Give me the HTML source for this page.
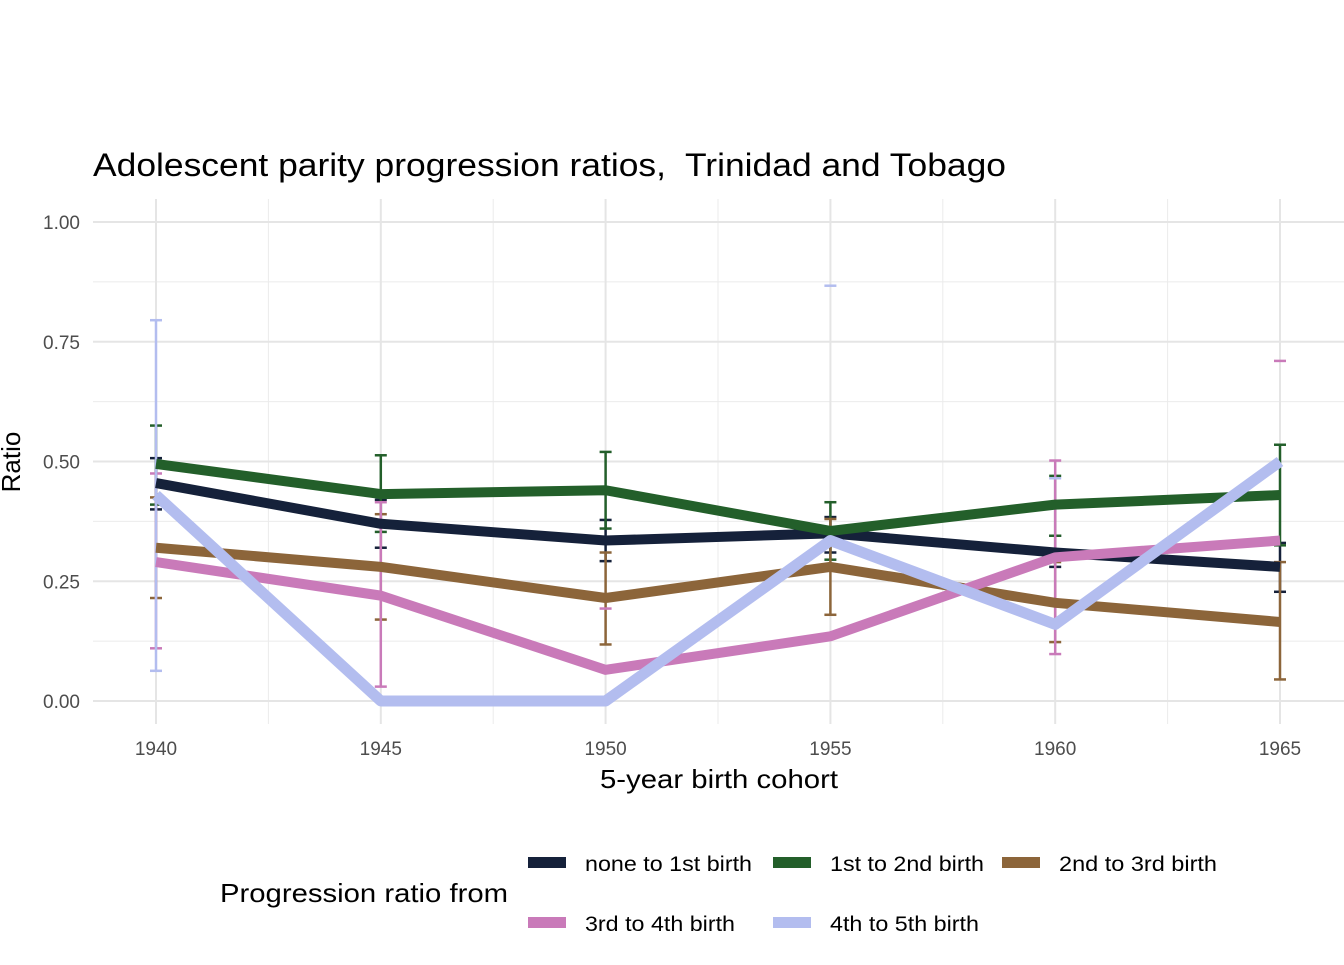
<!DOCTYPE html>
<html><head><meta charset="utf-8"><style>
body{margin:0;background:#fff;}
svg text{font-family:"Liberation Sans",Arial,sans-serif;white-space:pre;}
</style></head><body>
<svg id="chart" width="1344" height="960" xmlns="http://www.w3.org/2000/svg">
<rect width="1344" height="960" fill="#fff"/>
<text x="93" y="176" font-size="32" fill="#000" textLength="913" lengthAdjust="spacingAndGlyphs" xml:space="preserve">Adolescent parity progression ratios,  Trinidad and Tobago</text>
<g id="grid"></g>
<g id="bars"></g>
<g id="lines"></g>
<g id="axes"></g>
<text x="600" y="788" font-size="26" textLength="238" lengthAdjust="spacingAndGlyphs">5-year birth cohort</text>
<text transform="translate(20,462) rotate(-90)" font-size="26" text-anchor="middle">Ratio</text>
<text x="220" y="902" font-size="26" textLength="288" lengthAdjust="spacingAndGlyphs">Progression ratio from</text>
<g id="legend"></g>
</svg>
<script>
const years=[1940,1945,1950,1955,1960,1965];
const yTicks=[0,0.25,0.5,0.75,1.0];
const yTickLabels=["0.00","0.25","0.50","0.75","1.00"];
const seriesNames=["none to 1st birth","1st to 2nd birth","2nd to 3rd birth","3rd to 4th birth","4th to 5th birth"];
const seriesColors=["#15213a","#235f2a","#8c653a","#c97ab9","#b3bdef"];
const vNone=[0.455,0.37,0.335,0.35,0.31,0.28];
const loNone=[0.40,0.32,0.292,0.31,0.28,0.228];
const hiNone=[0.507,0.42,0.378,0.384,0.345,0.33];
const vFirst=[0.495,0.432,0.44,0.355,0.41,0.43];
const loFirst=[0.41,0.353,0.36,0.295,0.345,0.325];
const hiFirst=[0.575,0.513,0.52,0.415,0.47,0.535];
const vSecond=[0.32,0.28,0.215,0.28,0.205,0.165];
const loSecond=[0.215,0.17,0.118,0.18,0.123,0.045];
const hiSecond=[0.425,0.39,0.31,0.38,0.29,0.29];
const vThird=[0.29,0.22,0.065,0.135,0.30,0.335];
const loThird=[0.11,0.03,null,null,0.098,null];
const hiThird=[0.475,0.415,0.193,0.28,0.502,0.71];
const vFourth=[0.43,0,0,0.335,0.16,0.5];
const loFourth=[0.063,null,null,null,null,null];
const hiFourth=[0.795,null,null,0.867,0.465,null];
const vals=[vNone,vFirst,vSecond,vThird,vFourth];
const los=[loNone,loFirst,loSecond,loThird,loFourth];
const his=[hiNone,hiFirst,hiSecond,hiThird,hiFourth];
const X=y=>156+(y-1940)*(1124/25);
const Y=v=>701-v*479;
const NS="http://www.w3.org/2000/svg";
function mk(tag,attrs,parent){const e=document.createElementNS(NS,tag);for(const k in attrs)e.setAttribute(k,attrs[k]);parent.appendChild(e);return e;}
const grid=document.getElementById('grid'),axes=document.getElementById('axes');
for(let v=0.125;v<1;v+=0.25){const l=mk('line',{x1:93,x2:1344,y1:Y(v),y2:Y(v),stroke:'#ebebeb','stroke-width':1},grid);

}
for(let y=1942.5;y<1965;y+=5){const l=mk('line',{x1:X(y),x2:X(y),y1:199,y2:724,stroke:'#ebebeb','stroke-width':1},grid);

}
yTicks.forEach((v,i)=>{const l=mk('line',{x1:93,x2:1344,y1:Y(v),y2:Y(v),stroke:'#e5e5e5','stroke-width':2},grid);


const t=mk('text',{x:80,y:Y(v)+7,'font-size':19,'text-anchor':'end',fill:'#4d4d4d'},axes);t.textContent=yTickLabels[i];

});
years.forEach(y=>{const l=mk('line',{x1:X(y),x2:X(y),y1:199,y2:724,stroke:'#e5e5e5','stroke-width':2},grid);


const t=mk('text',{x:X(y),y:755,'font-size':19,'text-anchor':'middle',fill:'#4d4d4d'},axes);t.textContent=y;

});
const bars=document.getElementById('bars'),lines=document.getElementById('lines');
vals.forEach((vs,s)=>{const c=seriesColors[s];
years.forEach((y,i)=>{const lo=los[s][i],hi=his[s][i];if(hi===null)return;
const g=mk('g',{stroke:c,'stroke-width':2.5},bars);


if(lo!==null){
mk('line',{x1:X(y),x2:X(y),y1:Y(lo),y2:Y(hi)},g);
mk('line',{x1:X(y)-6,x2:X(y)+6,y1:Y(lo),y2:Y(lo)},g);}
mk('line',{x1:X(y)-6,x2:X(y)+6,y1:Y(hi),y2:Y(hi)},g);});
const p=mk('polyline',{points:years.map((y,i)=>X(y)+','+Y(vs[i])).join(' '),fill:'none',stroke:c,'stroke-width':s==4?11:10,'stroke-linejoin':'round'},lines);

});
const leg=document.getElementById('legend');
const lp=[[528,863],[773,863],[1002,863],[528,923],[773,923]];
const lw=[167,154,158,150,149];
seriesNames.forEach((n,s)=>{const g=mk('g',{},leg);


mk('rect',{x:lp[s][0],y:lp[s][1]-6,width:38,height:11,fill:seriesColors[s]},g);
const t=mk('text',{x:lp[s][0]+57,y:lp[s][1]+8,'font-size':21,textLength:lw[s],lengthAdjust:'spacingAndGlyphs'},g);t.textContent=n;});
</script>
</body></html>
